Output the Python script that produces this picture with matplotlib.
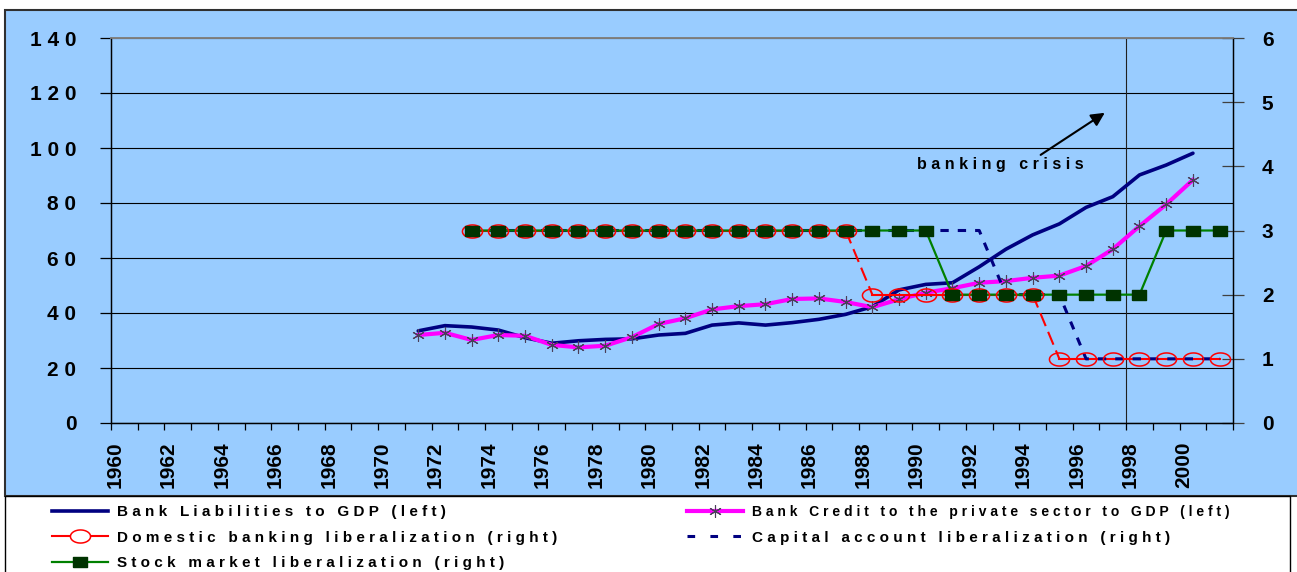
import numpy as np
import matplotlib
matplotlib.use('Agg')
import matplotlib.pyplot as plt
from matplotlib.lines import Line2D
from matplotlib.patches import Rectangle
from matplotlib.ticker import FixedLocator, FixedFormatter
from matplotlib.transforms import ScaledTranslation

plt.rcParams['font.family'] = ['Liberation Sans', 'DejaVu Sans']
plt.rcParams['font.weight'] = 'bold'
plt.rcParams['lines.scale_dashes'] = False

# ---------------- data ----------------
liab_years = list(range(1971, 2001))
bank_liabilities = [33.5, 35.4, 34.9, 33.8, 31.0, 29.0, 29.9, 30.4, 30.6, 32.0,
                    32.6, 35.6, 36.4, 35.6, 36.5, 37.7, 39.5, 42.3, 48.4, 50.4,
                    51.0, 56.8, 63.2, 68.4, 72.4, 78.4, 82.3, 90.2, 93.8, 98.1]
credit_years = list(range(1971, 2001))
bank_credit = [32.0, 32.8, 30.2, 32.0, 31.7, 28.4, 27.5, 28.1, 31.2, 36.0,
               38.1, 41.3, 42.5, 43.2, 45.1, 45.3, 44.0, 42.1, 45.0, 47.4,
               49.0, 51.0, 51.6, 52.8, 53.6, 57.1, 63.2, 71.6, 79.5, 88.4]
lib_years = list(range(1973, 2002))
domestic_lib = [3, 3, 3, 3, 3, 3, 3, 3, 3, 3, 3, 3, 3, 3, 3,
                2, 2, 2, 2, 2, 2, 2,
                1, 1, 1, 1, 1, 1, 1]
capital_lib = [3, 3, 3, 3, 3, 3, 3, 3, 3, 3, 3, 3, 3, 3, 3, 3, 3, 3, 3, 3,
               2, 2, 2,
               1, 1, 1, 1, 1, 1]
stock_lib = [3, 3, 3, 3, 3, 3, 3, 3, 3, 3, 3, 3, 3, 3, 3, 3, 3, 3,
             2, 2, 2, 2, 2, 2, 2, 2,
             3, 3, 3]

left_ticks = [0, 20, 40, 60, 80, 100, 120, 140]
right_ticks = [0, 1, 2, 3, 4, 5, 6]
axis_years = list(range(1960, 2003))
label_years = list(range(1960, 2001, 2))
crisis_year = 1998
crisis_text = "banking crisis"

labels = ["Bank Liabilities to GDP (left)",
          "Bank Credit to the private sector to GDP (left)",
          "Domestic banking liberalization (right)",
          "Capital account liberalization (right)",
          "Stock market liberalization (right)"]

# ---------------- style ----------------
BG = '#99CCFF'
NAVY = '#000080'
PINK = '#FF00FF'
STARC = '#4A3F5A'
RED = '#FF0000'
GREEN = '#008000'
DKGREEN = '#003300'


def spaced(s):
    return ' '.join(s)


t = np.linspace(0, 2 * np.pi, 41)
ellipse = list(zip(np.cos(t), 0.65 * np.sin(t)))
rect = [(-1, -0.7), (1, -0.7), (1, 0.7), (-1, 0.7), (-1, -0.7)]
star = (6, 2, 0)

W, H = 1297, 572
fig = plt.figure(figsize=(W / 100, H / 100), dpi=100)
fig.patch.set_facecolor('white')

# chart area (light blue) and legend box (white)
fig.patches.append(Rectangle((5 / W, (H - 496) / H), (W - 5) / W + 0.01, (496 - 10) / H,
                             transform=fig.transFigure, facecolor=BG,
                             edgecolor='#303030', lw=1.5, zorder=-10))
fig.patches.append(Rectangle((5 / W, -0.05), (1290 - 5) / W, (H - 496) / H + 0.05,
                             transform=fig.transFigure, facecolor='white',
                             edgecolor='black', lw=1.0, zorder=-9))

ax = fig.add_axes([111 / W, 1 - 423 / H, (1233 - 111) / W, (423 - 38) / H])
ax.set_facecolor(BG)
ax2 = ax.twinx()
ax2.patch.set_visible(False)

# category centres (Excel category axis: points between tick marks)
xl = np.array(liab_years) + 0.5
xc = np.array(credit_years) + 0.5
xr = np.array(lib_years) + 0.5

# left axis series
ax.plot(xl, bank_liabilities, color=NAVY, lw=2.6, solid_capstyle='round', zorder=3)
ax.plot(xc, bank_credit, color=PINK, lw=3.0, marker=star, ms=9, mec=STARC,
        mew=0.8, zorder=4)

# right axis series
for i in range(len(xr) - 1):
    same = domestic_lib[i] == domestic_lib[i + 1]
    ax2.plot(xr[i:i + 2], domestic_lib[i:i + 2], color=RED, lw=1.5,
             ls='-' if same else (0, (10, 4.5)), zorder=2.0)
ax2.plot(xr, capital_lib, color=NAVY, lw=2.2, ls=(0, (6, 6.5)), zorder=2.1)
ax2.plot(xr, stock_lib, color=GREEN, lw=1.6, zorder=2.2)
ax2.plot(xr, domestic_lib, ls='none', marker=ellipse, ms=14.5, mfc='none',
         mec=RED, mew=1.1, zorder=2.5)
ax2.plot(xr, stock_lib, ls='none', marker=rect, ms=9.5, mfc=DKGREEN,
         mec=DKGREEN, zorder=3)

# axes limits / ticks
ax.set_xlim(axis_years[0], axis_years[-1])
ax.set_ylim(left_ticks[0], left_ticks[-1])
ax2.set_ylim(right_ticks[0], right_ticks[-1])

ax.xaxis.set_major_locator(FixedLocator(axis_years))
ax.xaxis.set_major_formatter(FixedFormatter(
    [str(y) if y in label_years else '' for y in axis_years]))
ax.tick_params(axis='x', direction='out', length=5, width=0.9, pad=8.5,
               labelsize=15, labelrotation=90, colors='black')

ax.set_yticks(left_ticks)
ax.set_yticklabels([spaced(str(v)) for v in left_ticks])
ax.tick_params(axis='y', direction='out', length=8, width=0.9, pad=17,
               labelsize=15)
ax2.set_yticks(right_ticks)
ax2.set_yticklabels([str(v) for v in right_ticks])
ax2.tick_params(axis='y', direction='inout', length=16.5, width=0.9, pad=12.5,
                labelsize=15, color='#404040')

shift = ScaledTranslation(4 / 100, 0, fig.dpi_scale_trans)
for lab in ax.get_xticklabels():
    lab.set_transform(lab.get_transform() + shift)

for lab in ax.get_xticklabels() + ax.get_yticklabels() + ax2.get_yticklabels():
    lab.set_fontweight('bold')

# gridlines
ax.set_axisbelow(True)
ax.yaxis.grid(True, color='black', lw=0.8)
ax.xaxis.grid(False)

for a in (ax, ax2):
    a.spines['top'].set_color('#808080')
    a.spines['top'].set_linewidth(1.2)
    a.spines['left'].set_color('black')
    a.spines['right'].set_color('black')
    a.spines['bottom'].set_color('black')
    for s in ('left', 'right', 'bottom'):
        a.spines[s].set_linewidth(0.9)

# crisis marker
ax.axvline(crisis_year, color='#202020', lw=0.8, zorder=2)
ax.annotate('', xy=(1997.2, 112.8), xytext=(1994.8, 97.5),
            arrowprops=dict(arrowstyle='-|>', mutation_scale=20, lw=1.5,
                            color='black', shrinkA=0, shrinkB=0), zorder=6)
ax.text(1993.3, 94.0, spaced(crisis_text), ha='center', va='center',
        fontsize=11.5, fontweight='bold', zorder=6)

# legend
h_liab = Line2D([], [], color=NAVY, lw=2.6)
h_credit = Line2D([], [], color=PINK, lw=3.0, marker=star, ms=9, mec=STARC, mew=0.8)
h_dom = Line2D([], [], color=RED, lw=1.5, marker=ellipse, ms=14.5, mfc='white',
               mec=RED, mew=1.1)
h_cap = Line2D([], [], color=NAVY, lw=2.2, ls=(0, (5.5, 11)))
h_stock = Line2D([], [], color=GREEN, lw=1.6, marker=rect, ms=9.5, mfc=DKGREEN,
                 mec=DKGREEN)

handles = [h_liab, h_dom, h_stock, h_credit, h_cap]
leg_labels = [spaced(labels[0]), spaced(labels[2]), spaced(labels[4]),
              spaced(labels[1]), spaced(labels[3])]
leg = fig.legend(handles, leg_labels, ncol=2, loc='upper left',
                 bbox_to_anchor=(52 / W, 1 - 505 / H), frameon=False,
                 borderpad=0, borderaxespad=0, handlelength=3.65,
                 handletextpad=0.6, labelspacing=0.76, columnspacing=8.5,
                 prop={'family': ['Liberation Sans', 'DejaVu Sans'],
                       'weight': 'bold', 'size': 11})
leg.get_texts()[3].set_fontsize(10)

fig.savefig('out.png', dpi=100, facecolor='white')
